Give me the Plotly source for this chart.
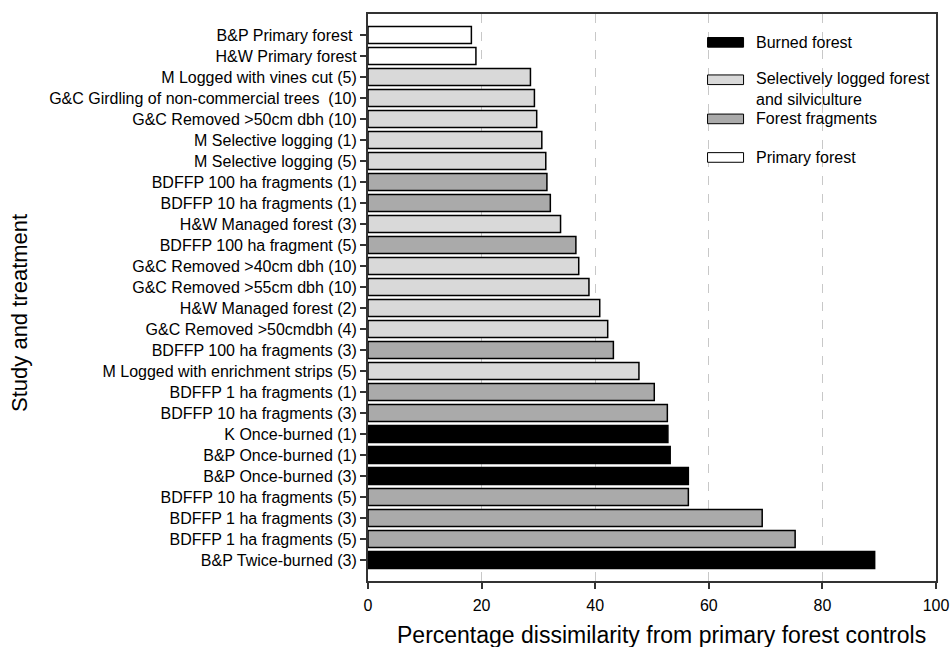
import plotly.graph_objects as go

categories = [
    "B&P Primary forest\u00a0",
    "H&W Primary forest",
    "M Logged with vines cut (5)",
    "G&C Girdling of non-commercial trees \u00a0(10)",
    "G&C Removed >50cm dbh (10)",
    "M Selective logging (1)",
    "M Selective logging (5)",
    "BDFFP 100 ha fragments (1)",
    "BDFFP 10 ha fragments (1)",
    "H&W Managed forest (3)",
    "BDFFP 100 ha fragment (5)",
    "G&C Removed >40cm dbh (10)",
    "G&C Removed >55cm dbh (10)",
    "H&W Managed forest (2)",
    "G&C Removed >50cmdbh (4)",
    "BDFFP 100 ha fragments (3)",
    "M Logged with enrichment strips (5)",
    "BDFFP 1 ha fragments (1)",
    "BDFFP 10 ha fragments (3)",
    "K Once-burned (1)",
    "B&P Once-burned (1)",
    "B&P Once-burned (3)",
    "BDFFP 10 ha fragments (5)",
    "BDFFP 1 ha fragments (3)",
    "BDFFP 1 ha fragments (5)",
    "B&P Twice-burned (3)",
]
values = [18.2, 19.0, 28.6, 29.3, 29.7, 30.6, 31.3, 31.5, 32.1, 33.9, 36.6, 37.1,
          38.9, 40.8, 42.2, 43.2, 47.7, 50.4, 52.7, 52.8, 53.2, 56.4, 56.4, 69.4,
          75.2, 89.2]
groups = ["P", "P", "L", "L", "L", "L", "L", "F", "F", "L", "F", "L", "L", "L", "L",
          "F", "L", "F", "F", "B", "B", "B", "F", "F", "F", "B"]

group_colors = {"B": "#000000", "L": "#d9d9d9", "F": "#aaaaaa", "P": "#ffffff"}
legend_labels = [("B", "Burned forest"),
                 ("L", "Selectively logged forest<br>and silviculture"),
                 ("F", "Forest fragments"),
                 ("P", "Primary forest")]
x_ticks = [0, 20, 40, 60, 80, 100]
x_title = "Percentage dissimilarity from primary forest controls"
y_title = "Study and treatment"

FONT = "Liberation Sans, Arial, sans-serif"

fig = go.Figure()
fig.add_trace(go.Bar(
    y=categories, x=values, orientation="h",
    marker=dict(color=[group_colors[g] for g in groups],
                line=dict(color="#000000", width=1.5)),
    width=0.8, showlegend=False,
))

# custom legend (swatches + labels) in paper coordinates
leg_y = [0.950, 0.8840, 0.8150, 0.7470]
for (g, lab), yc in zip(legend_labels, leg_y):
    fig.add_shape(type="rect", xref="paper", yref="paper",
                  x0=0.5978, x1=0.6612, y0=yc - 0.0085, y1=yc + 0.0085,
                  fillcolor=group_colors[g], line=dict(color="#000000", width=1))
    fig.add_annotation(xref="paper", yref="paper", x=0.6790, y=yc,
                       yshift=(-9 if "<br>" in lab else 0),
                       text=lab, showarrow=False, xanchor="left", yanchor="middle",
                       align="left", font=dict(size=16, color="#000000", family=FONT))

# axis titles
fig.add_annotation(xref="paper", yref="paper", x=0.5176, y=-0.0952,
                   text=x_title, showarrow=False, xanchor="center", yanchor="middle",
                   font=dict(size=23, color="#000000", family=FONT))
fig.add_annotation(xref="paper", yref="paper", x=-0.6127, y=0.4727,
                   text=y_title, showarrow=False, textangle=-90,
                   xanchor="center", yanchor="middle",
                   font=dict(size=22, color="#000000", family=FONT))

fig.update_layout(
    width=950, height=647,
    margin=dict(l=368, r=14, t=14, b=66),
    paper_bgcolor="white", plot_bgcolor="white",
    font=dict(family=FONT, color="#000000", size=16),
    bargap=0.2,
)
fig.update_xaxes(
    range=[0, 100], tickvals=x_ticks, ticks="outside", ticklen=6, tickwidth=1.5,
    tickcolor="#333333", showline=True, linecolor="#333333", linewidth=1.5,
    mirror=True, showgrid=True, gridcolor="#c8c8c8", griddash="dash", gridwidth=1,
    zeroline=False, tickfont=dict(size=16), automargin=False, ticklabelstandoff=3,
)
fig.update_yaxes(
    categoryorder="array", categoryarray=categories, range=[26, -1],
    ticks="outside", ticklen=6, tickwidth=1.5, tickcolor="#333333",
    showline=True, linecolor="#333333", linewidth=2, mirror=True,
    showgrid=False, zeroline=False, tickfont=dict(size=16), automargin=False,
)

fig.write_html("out.html", config={"displayModeBar": False},
               post_script="document.body.style.margin='0';document.body.style.overflow='hidden';")
